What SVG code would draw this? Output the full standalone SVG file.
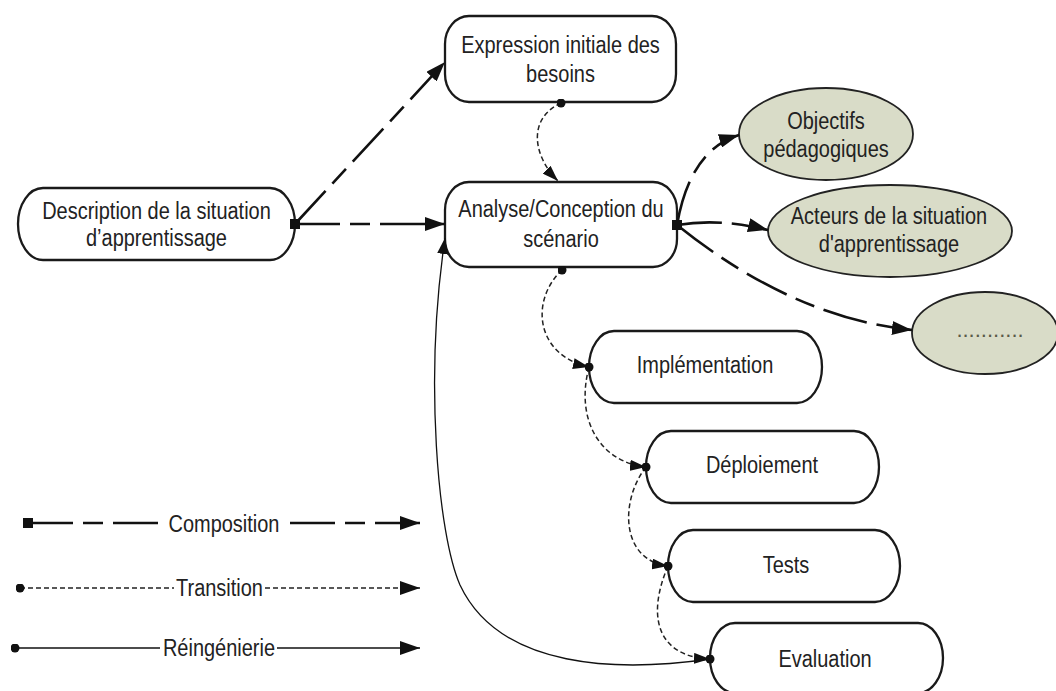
<svg xmlns="http://www.w3.org/2000/svg" width="1056" height="691" viewBox="0 0 1056 691">
<defs>
<style>
.box{fill:#fff;stroke:#1a1a1a;stroke-width:2.3}
.oval{fill:#d9dcc8;stroke:#222;stroke-width:1.8}
.t{font-family:"Liberation Sans",Arial,sans-serif;font-size:23.5px;text-anchor:middle;fill:#222}
.dots{font-family:"Liberation Sans",Arial,sans-serif;font-size:22px;text-anchor:middle;fill:#5a5a48}
.comp{fill:none;stroke:#111;stroke-width:2.6;stroke-dasharray:45 10 20 10}
.trans{fill:none;stroke:#222;stroke-width:1.5;stroke-dasharray:5 3}
.reing{fill:none;stroke:#111;stroke-width:1.3}
</style>
<marker id="arrL" viewBox="0 0 20 14" markerWidth="20" markerHeight="14" markerUnits="userSpaceOnUse" refX="20" refY="7" orient="auto"><path d="M0,0 L20,7 L0,14 z" fill="#111"/></marker>
<marker id="arrS" viewBox="0 0 16 11" markerWidth="16" markerHeight="11" markerUnits="userSpaceOnUse" refX="16" refY="5.5" orient="auto"><path d="M0,0 L16,5.5 L0,11 z" fill="#111"/></marker>
<marker id="sq" viewBox="0 0 10 10" markerWidth="10" markerHeight="10" markerUnits="userSpaceOnUse" refX="5" refY="5"><rect width="10" height="10" fill="#111"/></marker>
<marker id="dot" viewBox="0 0 9 9" markerWidth="9" markerHeight="9" markerUnits="userSpaceOnUse" refX="4.5" refY="4.5"><circle cx="4.5" cy="4.5" r="4.5" fill="#111"/></marker>
</defs>
<rect width="1056" height="691" fill="#fff"/>

<g id="n-description"><rect class="box" x="18" y="188" width="277" height="72" rx="25" ry="36"/>
<text class="t" transform="translate(156.5,0) scale(0.85,1)"><tspan x="0" y="219">Description de la situation</tspan><tspan x="0" y="246">d’apprentissage</tspan></text></g>

<g id="n-expression"><rect class="box" x="445" y="16" width="231" height="86" rx="24" ry="28"/>
<text class="t" transform="translate(560.5,0) scale(0.85,1)"><tspan x="0" y="53">Expression initiale des</tspan><tspan x="0" y="82">besoins</tspan></text></g>

<g id="n-analyse"><rect class="box" x="445" y="182" width="232" height="85" rx="24" ry="28"/>
<text class="t" transform="translate(561,0) scale(0.85,1)"><tspan x="0" y="217">Analyse/Conception du</tspan><tspan x="0" y="247">scénario</tspan></text></g>

<g id="n-objectifs"><ellipse class="oval" cx="826" cy="134" rx="87" ry="46"/>
<text class="t" transform="translate(826,0) scale(0.85,1)"><tspan x="0" y="129">Objectifs</tspan><tspan x="0" y="157">pédagogiques</tspan></text></g>

<g id="n-acteurs"><ellipse class="oval" cx="890" cy="231" rx="122" ry="46"/>
<text class="t" transform="translate(889,0) scale(0.85,1)"><tspan x="0" y="224">Acteurs de la situation</tspan><tspan x="0" y="252">d'apprentissage</tspan></text></g>

<g id="n-autres"><ellipse class="oval" cx="985" cy="333" rx="73" ry="41"/>
<text class="dots" x="990" y="337">...........</text></g>

<g id="n-implementation"><rect class="box" x="589" y="331" width="233" height="72" rx="25" ry="36"/>
<text class="t" transform="translate(705,373) scale(0.85,1)">Implémentation</text></g>

<g id="n-deploiement"><rect class="box" x="646" y="431" width="233" height="72" rx="25" ry="36"/>
<text class="t" transform="translate(762,473) scale(0.85,1)">Déploiement</text></g>

<g id="n-tests"><rect class="box" x="668" y="530" width="232" height="72" rx="25" ry="36"/>
<text class="t" transform="translate(786,573) scale(0.85,1)">Tests</text></g>

<g id="n-evaluation"><rect class="box" x="710" y="623" width="233" height="70" rx="25" ry="35"/>
<text class="t" transform="translate(825,667) scale(0.85,1)">Evaluation</text></g>

<g id="connectors">
<path class="comp" d="M295,224 L445,62" marker-start="url(#sq)" marker-end="url(#arrL)"/>
<path class="comp" d="M295,224 L445,224" marker-start="url(#sq)" marker-end="url(#arrL)"/>
<path class="comp" d="M677,225 Q690,150 739,135" marker-start="url(#sq)" marker-end="url(#arrL)"/>
<path class="comp" d="M677,225 Q720,218 768,230" marker-start="url(#sq)" marker-end="url(#arrL)"/>
<path class="comp" d="M677,225 Q793,318 912,330" marker-start="url(#sq)" marker-end="url(#arrL)"/>
<path class="trans" d="M561,103 C528,118 532,155 558,181" marker-start="url(#dot)" marker-end="url(#arrS)"/>
<path class="trans" d="M562,270 C530,300 535,355 589,367" marker-start="url(#dot)" marker-end="url(#arrS)"/>
<path class="trans" d="M589,367 C575,420 600,462 646,467" marker-start="url(#dot)" marker-end="url(#arrS)"/>
<path class="trans" d="M646,467 C620,500 620,560 668,566" marker-start="url(#dot)" marker-end="url(#arrS)"/>
<path class="trans" d="M668,566 C645,620 660,657 710,659" marker-start="url(#dot)" marker-end="url(#arrS)"/>
<path class="reing" d="M710,659 C620,672 500,670 460,585 C438,535 424,380 445,238" marker-start="url(#dot)" marker-end="url(#arrS)"/>
</g>

<g id="legend">
<path class="comp" d="M28,523 L163,523" marker-start="url(#sq)"/>
<text class="t" transform="translate(224,532) scale(0.85,1)">Composition</text>
<path class="comp" d="M290,523 L420,523" marker-end="url(#arrL)"/>
<path class="trans" d="M20,588 L174,588" marker-start="url(#dot)"/>
<text class="t" transform="translate(219.5,596) scale(0.85,1)">Transition</text>
<path class="trans" d="M265,588 L420,588" marker-end="url(#arrL)"/>
<path class="reing" d="M15,648 L160,648" marker-start="url(#dot)"/>
<text class="t" transform="translate(219,656) scale(0.85,1)">Réingénierie</text>
<path class="reing" d="M277,648 L420,648" marker-end="url(#arrL)"/>
</g>
</svg>
